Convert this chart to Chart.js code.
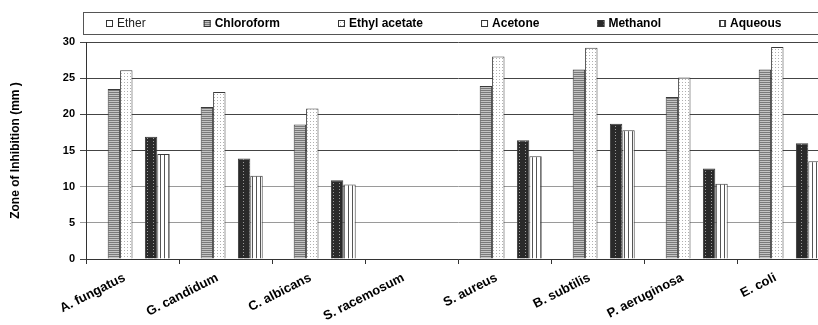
<!DOCTYPE html>
<html>
<head>
<meta charset="utf-8">
<script src="https://cdn.jsdelivr.net/npm/chart.js@4.4.1/dist/chart.umd.min.js"></script>
<style>
  html, body { margin: 0; padding: 0; background: #fff; overflow: hidden; width: 818px; height: 325px; }
  #wrap { width: 832px; height: 325px; }
</style>
</head>
<body>
<div id="wrap"><canvas id="zoneChart" width="832" height="325"></canvas></div>
<script>
// categories and series
const categories = ['A. fungatus', 'G. candidum', 'C. albicans', 'S. racemosum', 'S. aureus', 'B. subtilis', 'P. aeruginosa', 'E. coli'];
const seriesNames = ['Ether', 'Chloroform', 'Ethyl acetate', 'Acetone', 'Methanol', 'Aqueous'];
const ether = [0, 0, 0, 0, 0, 0, 0, 0];
const chloroform = [23.5, 21.0, 18.6, 0, 23.9, 26.2, 22.4, 26.2];
const ethylAcetate = [26.1, 23.1, 20.8, 0, 28.0, 29.2, 25.1, 29.3];
const acetone = [0, 0, 0, 0, 0, 0, 0, 0];
const methanol = [16.9, 13.9, 10.9, 0, 16.4, 18.7, 12.5, 16.0];
const aqueous = [14.5, 11.5, 10.3, 0, 14.2, 17.8, 10.4, 13.5];
const yTicks = [0, 5, 10, 15, 20, 25, 30];

const FONT = '"Liberation Sans", Arial, sans-serif';

// little canvas patterns like the old excel fills
function makePattern(w, h, draw) {
    const c = document.createElement('canvas');
    c.width = w; c.height = h;
    const g = c.getContext('2d');
    draw(g);
    return c.getContext('2d').createPattern(c, 'repeat');
}
const hStripes = makePattern(1, 2, g => {
    g.fillStyle = '#7a7a7a'; g.fillRect(0, 0, 1, 1);
    g.fillStyle = '#c4c4c4'; g.fillRect(0, 1, 1, 1);
});
const dots = makePattern(3, 3, g => {
    g.fillStyle = '#ffffff'; g.fillRect(0, 0, 3, 3);
    g.fillStyle = '#b0b0b0'; g.fillRect(1, 1, 1, 1);
});
const darkDash = makePattern(6, 3, g => {
    g.fillStyle = '#2a2a2a'; g.fillRect(0, 0, 6, 3);
    g.fillStyle = '#9a9a9a'; g.fillRect(3, 0, 1, 1);
});
const vStripes = makePattern(4, 1, g => {
    g.fillStyle = '#ffffff'; g.fillRect(0, 0, 4, 1);
    g.fillStyle = '#555555'; g.fillRect(0, 0, 1, 1);
});

const fills = ['#ffffff', hStripes, dots, '#ffffff', darkDash, vStripes];
const seriesData = [ether, chloroform, ethylAcetate, acetone, methanol, aqueous];

// legend drawn by hand so "Ether" can stay regular while the rest are bold
const boxLegend = {
    id: 'boxLegend',
    afterDraw(chart) {
        const ctx = chart.ctx;
        ctx.save();
        ctx.strokeStyle = '#555';
        ctx.lineWidth = 1;
        ctx.strokeRect(83.5, 12.5, chart.width, 22);
        let x = 106;
        const y = 24;
        seriesNames.forEach((name, i) => {
            ctx.font = (i === 0 ? '' : 'bold ') + '12px ' + FONT;
            ctx.fillStyle = fills[i];
            ctx.fillRect(x, y - 4, 7, 7);
            ctx.strokeStyle = '#333';
            ctx.strokeRect(x + 0.5, y - 3.5, 6, 6);
            ctx.fillStyle = i === 0 ? '#222' : '#000';
            ctx.textBaseline = 'middle';
            ctx.fillText(name, x + 11, y);
            x += 11 + ctx.measureText(name).width + 58;
        });
        ctx.restore();
    }
};

const ctx = document.getElementById('zoneChart').getContext('2d');
const zoneChart = new Chart(ctx, {
    type: 'bar',
    data: {
        labels: categories,
        datasets: seriesNames.map((name, i) => ({
            label: name,
            data: seriesData[i],
            backgroundColor: fills[i],
            borderColor: '#3a3a3a',
            borderWidth: 1,
            categoryPercentage: 0.8,
            barPercentage: 1.0
        }))
    },
    options: {
        responsive: false,
        animation: false,
        layout: { padding: { top: 42, right: 2, left: 0, bottom: 0 } },
        plugins: {
            legend: { display: false },
            tooltip: { enabled: false }
        },
        scales: {
            x: {
                grid: {
                    drawOnChartArea: false,
                    drawTicks: true,
                    tickLength: 5,
                    color: '#333',
                    offset: true
                },
                border: { color: '#333', width: 1 },
                ticks: {
                    minRotation: 27,
                    maxRotation: 27,
                    color: '#000',
                    font: { family: FONT, size: 13, weight: 'bold' },
                    padding: 6,
                    labelOffset: -8
                },
                afterFit: scale => { scale.height = 66; }
            },
            y: {
                min: 0,
                max: 30,
                afterBuildTicks: scale => { scale.ticks = yTicks.map(v => ({ value: v })); },
                grid: {
                    color: c => (c.tick && (c.tick.value === 5 || c.tick.value === 10)) ? '#9a9a9a' : '#444',
                    tickLength: 6,
                    lineWidth: 1
                },
                border: { color: '#333', width: 1 },
                ticks: {
                    color: '#000',
                    padding: 5,
                    font: { family: FONT, size: 11, weight: 'bold' }
                },
                title: {
                    display: true,
                    text: 'Zone of Inhibition (mm )',
                    color: '#000',
                    font: { family: FONT, size: 12, weight: 'bold' },
                    padding: { top: 8, bottom: 4 }
                },
                afterFit: scale => { scale.width = 86; }
            }
        }
    },
    plugins: [boxLegend]
});
</script>
</body>
</html>
